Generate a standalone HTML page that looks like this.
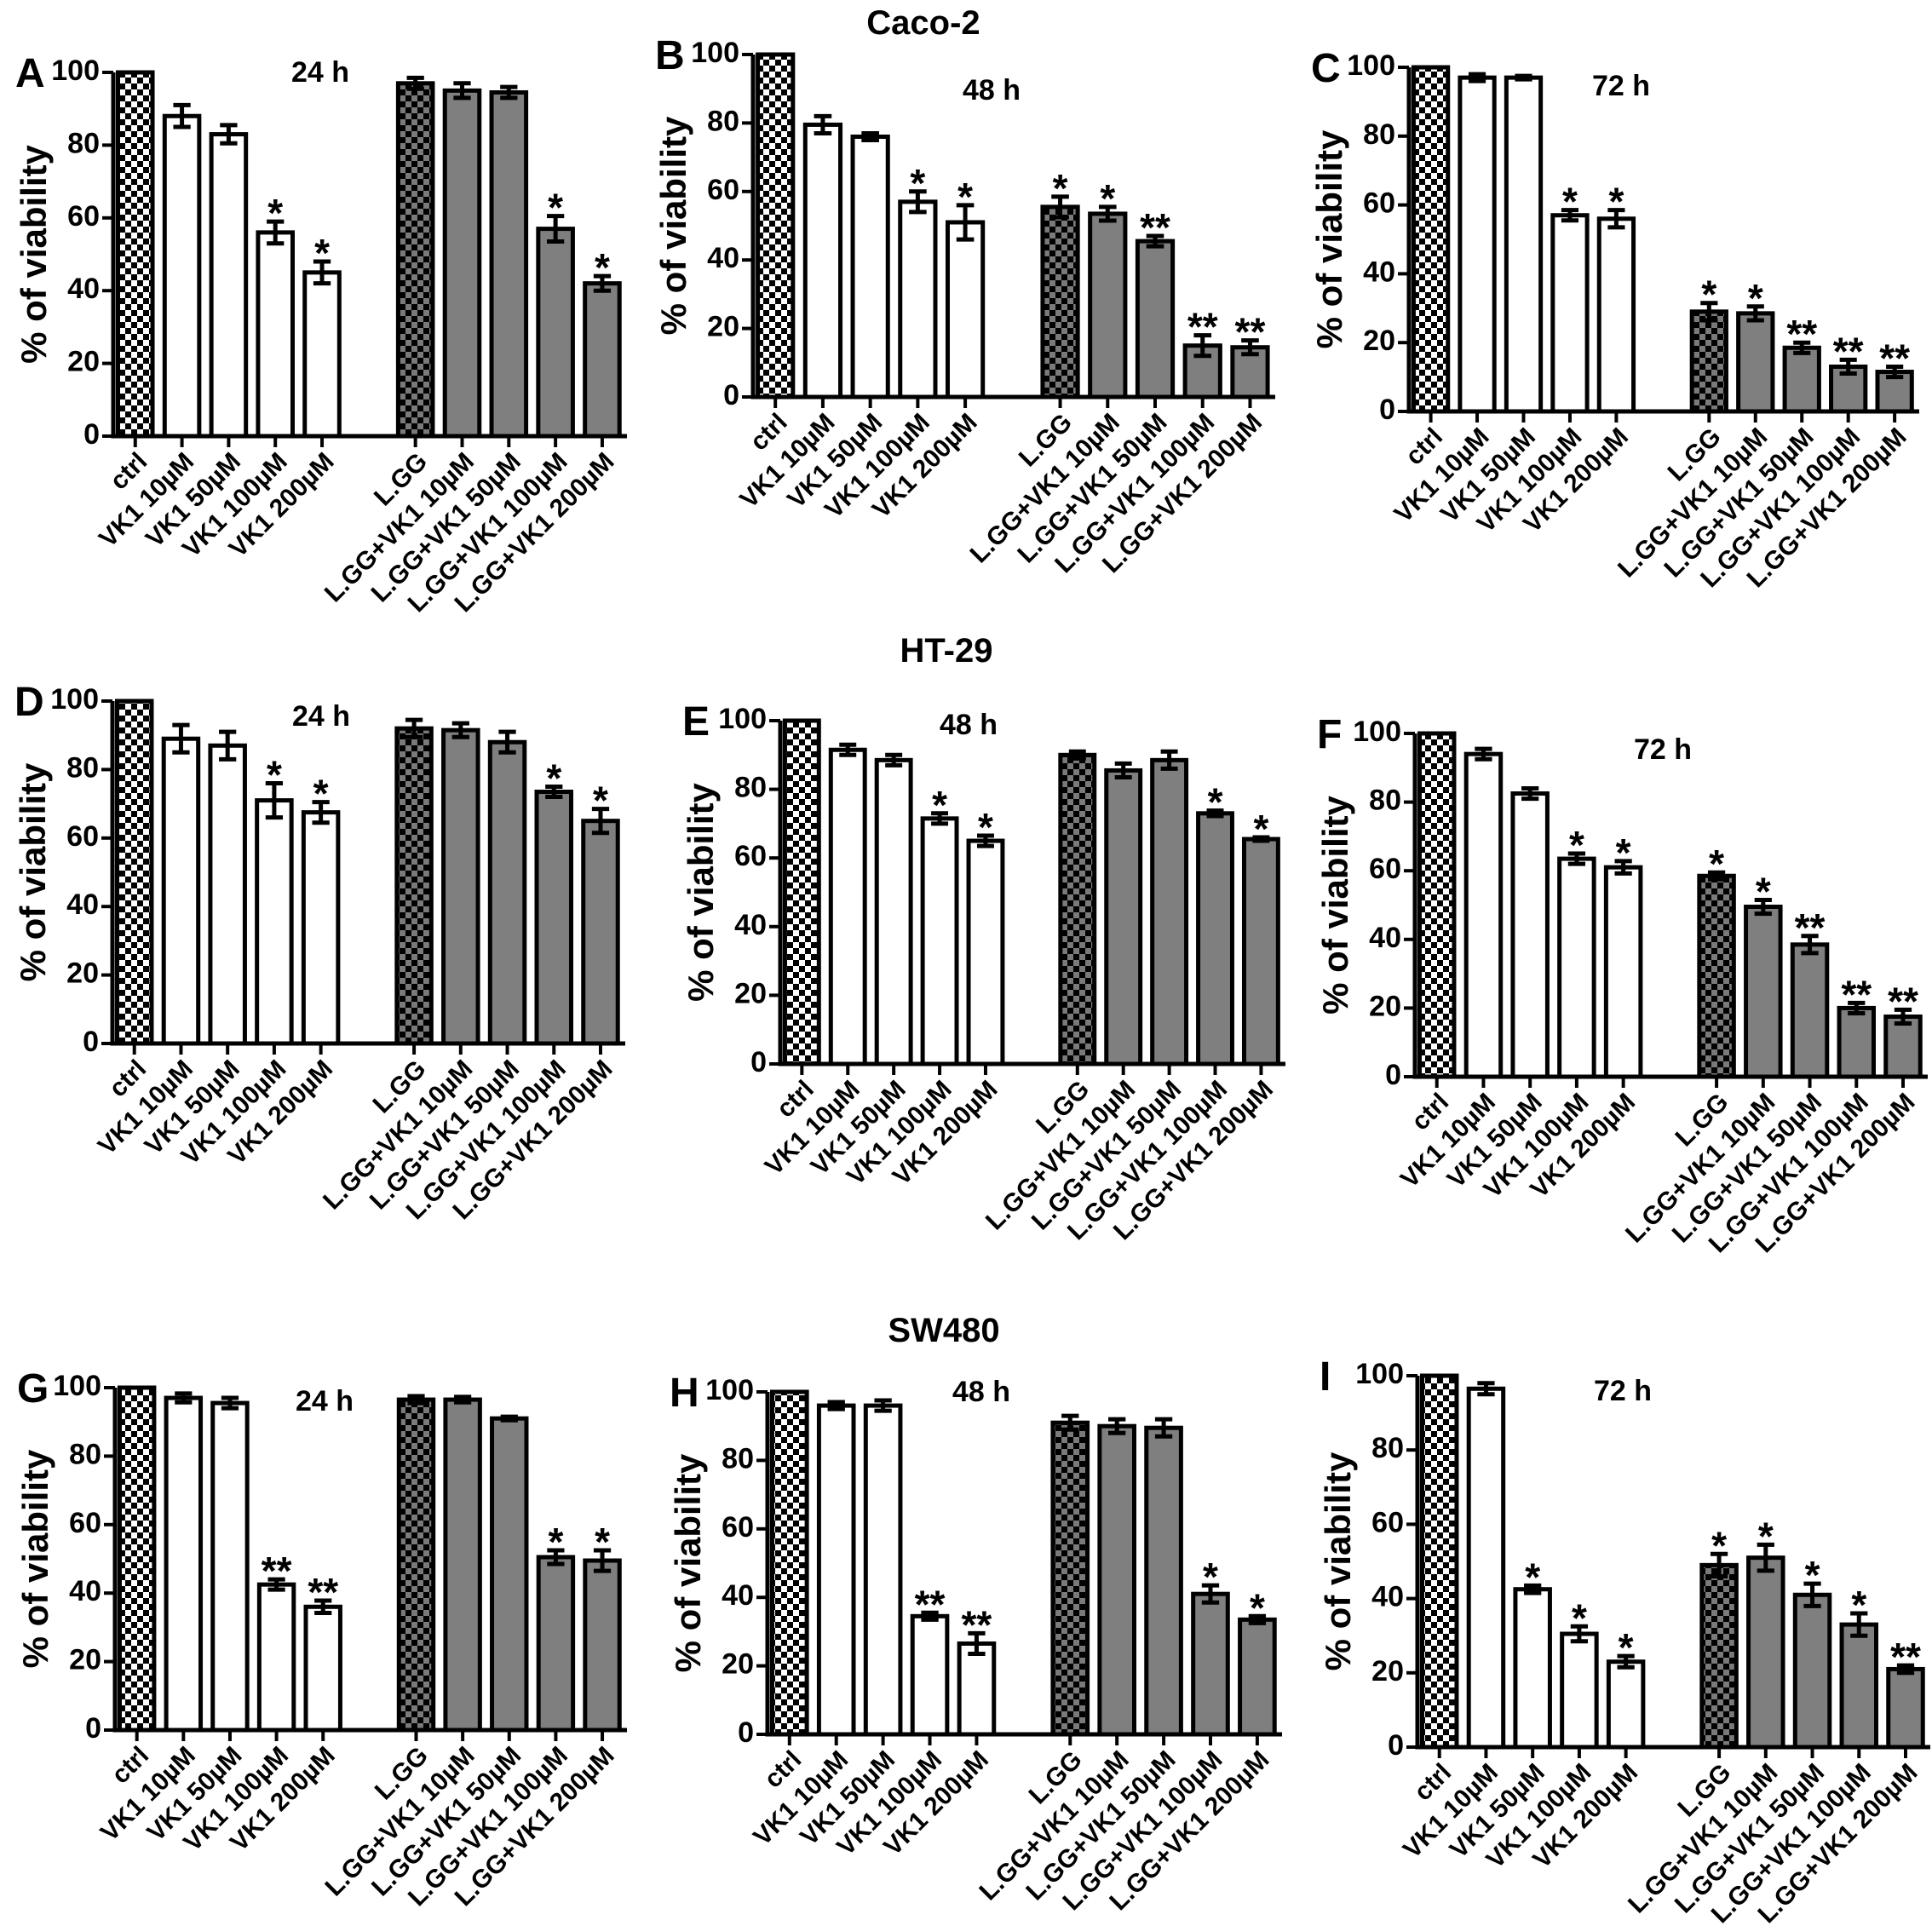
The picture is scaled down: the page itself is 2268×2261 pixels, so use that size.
<!DOCTYPE html>
<html><head><meta charset="utf-8"><style>
html,body{margin:0;padding:0;background:#fff;}
svg{display:block;font-family:"Liberation Sans",Arial,sans-serif;font-weight:bold;}
</style></head><body>
<svg id="fig" width="2268" height="2261" viewBox="0 0 2268 2261" xmlns="http://www.w3.org/2000/svg">
<defs>
<pattern id="chkW" patternUnits="userSpaceOnUse" width="14" height="14"><rect width="14" height="14" fill="#fff"/><rect width="7" height="7" fill="#000"/><rect x="7" y="7" width="7" height="7" fill="#000"/></pattern>
<pattern id="chkG" patternUnits="userSpaceOnUse" width="14" height="14"><rect width="14" height="14" fill="#7a7a7a"/><rect width="7" height="7" fill="#000"/><rect x="7" y="7" width="7" height="7" fill="#000"/></pattern>
</defs>
<text x="1084" y="40" font-size="40" text-anchor="middle">Caco-2</text>
<text x="1111" y="777" font-size="40" text-anchor="middle">HT-29</text>
<text x="1108" y="1575" font-size="40" text-anchor="middle">SW480</text>
</svg>
<script>
const categories = ["ctrl","VK1 10µM","VK1 50µM","VK1 100µM","VK1 200µM","L.GG","L.GG+VK1 10µM","L.GG+VK1 50µM","L.GG+VK1 100µM","L.GG+VK1 200µM"];
const yTicks = [0,20,40,60,80,100];
const valuesA = [100,88,83,56,45,97,95,94.5,57,42];
const errA    = [0,3,2.5,3,3,1.5,2,1.5,3.5,2];
const starsA  = ["","","","*","*","","","","*","*"];
const valuesB = [100,79.5,76,57,51,55.5,53.5,45.5,15,14.5];
const errB    = [0,2.5,1,3,5,3,2,1.5,3,2];
const starsB  = ["","","","*","*","*","*","**","**","**"];
const valuesC = [100,97,97,57,56,29,28.5,18.5,13,11.5];
const errC    = [0,1,0.5,1.5,2.5,2.5,2,1.5,2,1.5];
const starsC  = ["","","","*","*","*","*","**","**","**"];
const valuesD = [100,89,87,71,67.5,92,91.5,88,73.5,65];
const errD    = [0,4,4,5,3,2.5,2,3,1.5,3.5];
const starsD  = ["","","","*","*","","","","*","*"];
const valuesE = [100,91.5,88.5,71.5,65,90,85.5,88.5,73,65.5];
const errE    = [0,1.5,1.5,1.5,1.5,1,2,2.5,0.8,0.5];
const starsE  = ["","","","*","*","","","","*","*"];
const valuesF = [100,94,82.5,63.5,61,58.5,49.5,38.5,20,17.5];
const errF    = [0,1.5,1.5,1.5,1.8,1,2,2.5,1.5,2];
const starsF  = ["","","","*","*","*","*","**","**","**"];
const valuesG = [100,97,95.5,42.5,36,96.5,96.5,91,50.5,49.5];
const errG    = [0,1.3,1.5,1.5,1.8,1,0.8,0.5,2,3];
const starsG  = ["","","","**","**","","","","*","*"];
const valuesH = [100,96,96,34.5,26.5,91,90,89.5,41,33.5];
const errH    = [0,1,1.5,1,3,2,2,2.5,2.5,1];
const starsH  = ["","","","**","**","","","","*","*"];
const valuesI = [100,96.5,42.5,30.5,23,49,51,41,33,21];
const errI    = [0,1.5,1,2,1.5,3,3.5,3,3,1];
const starsI  = ["","","*","*","*","*","*","*","*","**"];
const timeLabels = ["24 h","48 h","72 h","24 h","48 h","72 h","24 h","48 h","72 h"];

const layouts = [
 {id:"A", ax:133, yt:85,  yb:512, xe:736,  tx:376,  ty:84},
 {id:"B", ax:884, yt:64,  yb:466, xe:1497, tx:1164, ty:105},
 {id:"C", ax:1654,yt:79,  yb:483, xe:2253, tx:1903, ty:100},
 {id:"D", ax:132, yt:823, yb:1225,xe:734,  tx:377,  ty:840},
 {id:"E", ax:916, yt:846, yb:1249,xe:1509, tx:1137, ty:850},
 {id:"F", ax:1661,yt:861, yb:1264,xe:2263, tx:1952, ty:879},
 {id:"G", ax:135, yt:1629,yb:2031,xe:736,  tx:381,  ty:1644},
 {id:"H", ax:901, yt:1634,yb:2036,xe:1505, tx:1152, ty:1633},
 {id:"I", ax:1664,yt:1615,yb:2051,xe:2266, tx:1905, ty:1632}
];
const dataSets = [[valuesA,errA,starsA],[valuesB,errB,starsB],[valuesC,errC,starsC],[valuesD,errD,starsD],[valuesE,errE,starsE],[valuesF,errF,starsF],[valuesG,errG,starsG],[valuesH,errH,starsH],[valuesI,errI,starsI]];
const NS = "http://www.w3.org/2000/svg";
const svg = document.getElementById("fig");
function mk(tag, attrs, parent){const e=document.createElementNS(NS,tag);for(const k in attrs)e.setAttribute(k,attrs[k]);(parent||svg).appendChild(e);return e;}

layouts.forEach((L,p)=>{
  const [vals,errs,stars]=dataSets[p];
  const g = mk("g",{});
  
  
  const y = v => L.yb - (L.yb-L.yt)*v/100;
  const step = (L.xe-L.ax)/11;
  const xc = i => L.ax + ((i<5?i:i+1)+0.47)*step;
  const bw = step*0.74;
  const lt = mk("text",{x:L.ax-115,y:L.yt+17,"font-size":48},g); lt.textContent=L.id;
  
  
  const tl = mk("text",{x:L.tx,y:L.ty+12,"font-size":34,"text-anchor":"middle"},g); tl.textContent=timeLabels[p];
  
  
  const yc=(L.yt+L.yb)/2, yx=L.ax-90;
  const yt = mk("text",{x:yx,y:yc,"font-size":42,"text-anchor":"middle","dominant-baseline":"middle",transform:`rotate(-90 ${yx} ${yc})`},g); yt.textContent="% of viability";
  
  
  vals.forEach((v,i)=>{
    const fill = i===0?"url(#chkW)":(i===5?"url(#chkG)":(i<5?"#fff":"#7f7f7f"));
    const r = mk("rect",{x:xc(i)-bw/2,y:y(v),width:bw,height:L.yb-y(v),fill:fill,stroke:"#000","stroke-width":5},g);
    
    
    if(errs[i]>0){
      const cw=bw*0.25;
      const eb = mk("path",{d:`M${xc(i)} ${y(v-errs[i])}V${y(v+errs[i])}M${xc(i)-cw} ${y(v+errs[i])}H${xc(i)+cw}M${xc(i)-cw} ${y(v-errs[i])}H${xc(i)+cw}`,stroke:"#000","stroke-width":5,fill:"none"},g);
      
      
    }
    if(stars[i]){
      const s = mk("text",{x:xc(i),y:y(v+errs[i])+6,"font-size":46,"text-anchor":"middle"},g); s.textContent=stars[i];
      
      
    }
    const tk = mk("line",{x1:xc(i),x2:xc(i),y1:L.yb,y2:L.yb+13,stroke:"#000","stroke-width":4},g);
    
    
    const lx=xc(i)+10, ly=L.yb+26;
    const lb = mk("text",{x:lx,y:ly,"font-size":30,"text-anchor":"end","dominant-baseline":"middle",transform:`rotate(-45 ${lx} ${ly})`},g); lb.textContent=categories[i];
    
    
  });
  const axl = mk("path",{d:`M${L.ax} ${L.yt}V${L.yb}H${L.xe}`,stroke:"#000","stroke-width":5,fill:"none"},g);
  
  
  yTicks.forEach(t=>{
    const tk = mk("line",{x1:L.ax-13,x2:L.ax,y1:y(t),y2:y(t),stroke:"#000","stroke-width":4},g);
    
    
    const tt = mk("text",{x:L.ax-16,y:y(t),"font-size":34,"text-anchor":"end","dominant-baseline":"middle"},g); tt.textContent=t;
    
    
  });
});
</script>
</body></html>
